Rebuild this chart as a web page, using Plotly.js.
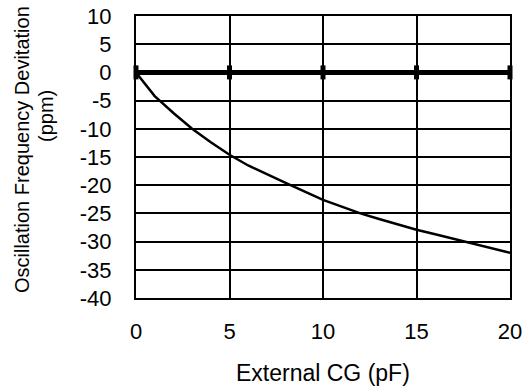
<!DOCTYPE html>
<html>
<head>
<meta charset="utf-8">
<script src="https://cdn.plot.ly/plotly-3.0.1.min.js"></script>
<style>
html,body{margin:0;padding:0;background:#fff;}
#chart{width:524px;height:392px;}
</style>
</head>
<body>
<div id="chart"></div>
<script>
// External load capacitance (pF)
const capX = [0, 1, 2, 3, 4, 5, 6, 7, 8, 9, 10, 11, 12, 13, 14, 15, 16, 17, 18, 19, 20];
// Oscillation frequency deviation (ppm)
const deviation = [0, -4.2, -7.2, -10.0, -12.4, -14.6, -16.5, -18.1, -19.6, -21.1, -22.6, -23.8, -25.0, -26.0, -27.0, -27.9, -28.7, -29.5, -30.3, -31.2, -32.0];
// Reference (0 ppm) series
const refX = [0, 5, 10, 15, 20];
const refY = [0, 0, 0, 0, 0];
// Tick labels
const xTickVals = [0, 5, 10, 15, 20];
const xTickText = ["0", "5", "10", "15", "20"];
const yTickVals = [10, 5, 0, -5, -10, -15, -20, -25, -30, -35, -40];
const yTickText = ["10", "5", "0", "-5", "-10", "-15", "-20", "-25", "-30", "-35", "-40"];
const xTitle = "External CG (pF)";
const yTitleLine1 = "Oscillation Frequency Devitation";
const yTitleLine2 = "(ppm)";

const FONT = "Liberation Sans, Arial, sans-serif";

const traces = [
  {
    x: refX, y: refY, mode: "lines+markers", type: "scatter",
    line: {color: "#000", width: 5},
    marker: {symbol: "line-ns", size: 10, line: {color: "#000", width: 5}},
    hoverinfo: "skip", showlegend: false, cliponaxis: false
  },
  {
    x: capX, y: deviation, mode: "lines", type: "scatter",
    line: {color: "#000", width: 2.5},
    showlegend: false, cliponaxis: false
  }
];

const layout = {
  width: 524, height: 392,
  margin: {l: 136, r: 14, t: 16, b: 94},
  paper_bgcolor: "#fff", plot_bgcolor: "#fff",
  font: {family: FONT, size: 20, color: "#000"},
  showlegend: false,
  xaxis: {
    range: [0, 20], tickvals: xTickVals, ticktext: xTickText,
    showgrid: true, gridcolor: "#000", gridwidth: 2,
    showline: true, linecolor: "#000", linewidth: 2, mirror: true,
    zeroline: false, ticks: "", ticklabelstandoff: 13,
    tickfont: {family: FONT, size: 22, color: "#000"}
  },
  yaxis: {
    range: [-40, 10], tickvals: yTickVals, ticktext: yTickText,
    showgrid: true, gridcolor: "#000", gridwidth: 2,
    showline: true, linecolor: "#000", linewidth: 2, mirror: true,
    zeroline: false, ticks: "", ticklabelstandoff: 18,
    tickfont: {family: FONT, size: 22, color: "#000"}
  },
  annotations: [
    {text: xTitle, xref: "paper", yref: "paper", x: 0.5, y: -0.266,
     xanchor: "center", yanchor: "middle", showarrow: false,
     font: {family: FONT, size: 23, color: "#000"}},
    {text: yTitleLine1, xref: "paper", yref: "paper", x: -0.305, y: 0.528,
     xanchor: "center", yanchor: "middle", showarrow: false, textangle: -90,
     font: {family: FONT, size: 20, color: "#000"}},
    {text: yTitleLine2, xref: "paper", yref: "paper", x: -0.241, y: 0.645,
     xanchor: "center", yanchor: "middle", showarrow: false, textangle: -90,
     font: {family: FONT, size: 20, color: "#000"}}
  ]
};

Plotly.newPlot("chart", traces, layout, {displayModeBar: false, staticPlot: true});
</script>
</body>
</html>
